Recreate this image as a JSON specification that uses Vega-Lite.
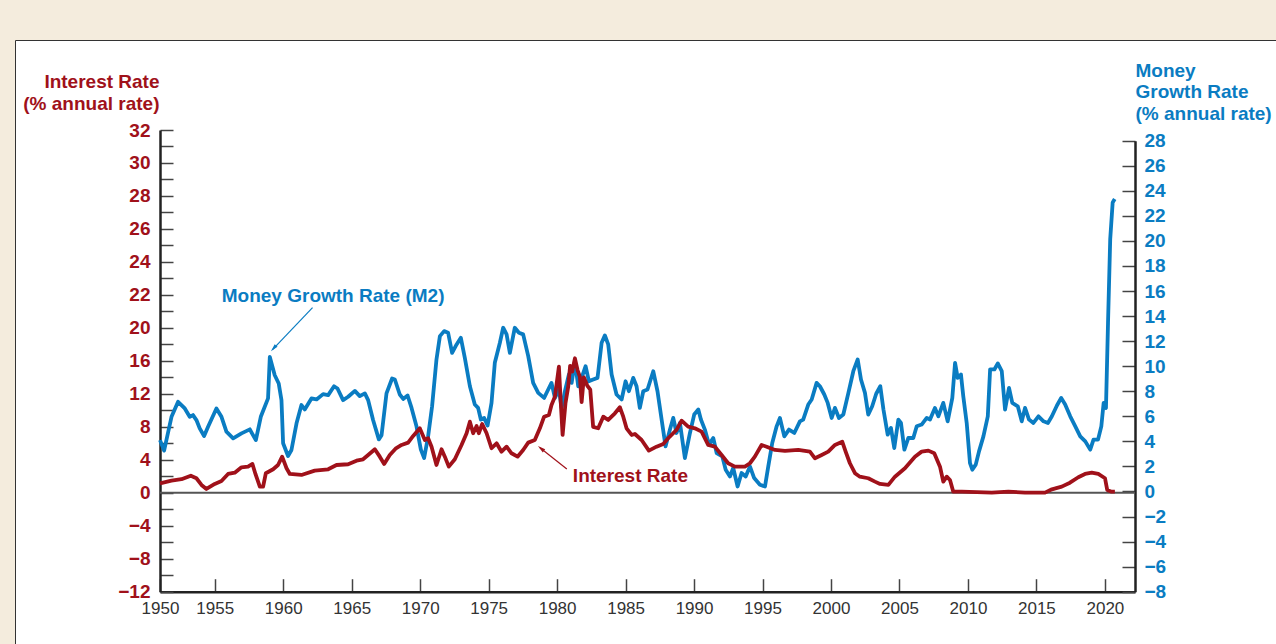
{
  "$schema": "https://vega.github.io/schema/vega-lite/v6.json",
  "width": 1261,
  "height": 604,
  "autosize": {"type": "none"},
  "padding": {"left": 15, "top": 40, "right": 0, "bottom": 0},
  "background": "#f4ecdd",
  "config": {
    "font": "Liberation Sans",
    "view": {"fill": "white", "stroke": "#333333", "strokeWidth": 1},
    "axis": {"grid": false}
  },
  "datasets": {
    "rate": [
      {"year": 1951.0, "value": 1.15}, {"year": 1951.84, "value": 1.47}, {"year": 1952.57, "value": 1.64}, {"year": 1953.25, "value": 2.07},
      {"year": 1953.66, "value": 1.76}, {"year": 1954.03, "value": 0.95}, {"year": 1954.39, "value": 0.46}, {"year": 1955.0, "value": 1.07},
      {"year": 1955.49, "value": 1.43}, {"year": 1955.97, "value": 2.28}, {"year": 1956.46, "value": 2.44}, {"year": 1956.95, "value": 3.09},
      {"year": 1957.43, "value": 3.17}, {"year": 1957.75, "value": 3.49}, {"year": 1957.97, "value": 2.28}, {"year": 1958.29, "value": 0.74},
      {"year": 1958.53, "value": 0.74}, {"year": 1958.73, "value": 2.37}, {"year": 1959.26, "value": 2.85}, {"year": 1959.62, "value": 3.37},
      {"year": 1959.92, "value": 4.38}, {"year": 1960.24, "value": 2.97}, {"year": 1960.48, "value": 2.28}, {"year": 1961.33, "value": 2.16},
      {"year": 1962.3, "value": 2.68}, {"year": 1963.28, "value": 2.85}, {"year": 1963.89, "value": 3.37}, {"year": 1964.74, "value": 3.46},
      {"year": 1965.35, "value": 3.89}, {"year": 1965.83, "value": 4.06}, {"year": 1966.2, "value": 4.58}, {"year": 1966.69, "value": 5.28},
      {"year": 1967.05, "value": 4.38}, {"year": 1967.37, "value": 3.49}, {"year": 1967.78, "value": 4.58}, {"year": 1968.2, "value": 5.35},
      {"year": 1968.64, "value": 5.8}, {"year": 1969.12, "value": 6.08}, {"year": 1969.49, "value": 6.89}, {"year": 1969.97, "value": 7.82},
      {"year": 1970.34, "value": 6.4}, {"year": 1970.58, "value": 6.61}, {"year": 1970.83, "value": 5.59}, {"year": 1971.19, "value": 3.37},
      {"year": 1971.56, "value": 5.28}, {"year": 1971.8, "value": 4.38}, {"year": 1972.09, "value": 3.17}, {"year": 1972.53, "value": 4.06},
      {"year": 1973.02, "value": 5.8}, {"year": 1973.39, "value": 7.22}, {"year": 1973.63, "value": 8.62}, {"year": 1973.87, "value": 7.22},
      {"year": 1974.12, "value": 8.1}, {"year": 1974.28, "value": 7.22}, {"year": 1974.53, "value": 8.34}, {"year": 1974.85, "value": 7.22},
      {"year": 1975.21, "value": 5.4}, {"year": 1975.58, "value": 6.0}, {"year": 1975.94, "value": 4.98}, {"year": 1976.31, "value": 5.59},
      {"year": 1976.67, "value": 4.79}, {"year": 1977.11, "value": 4.38}, {"year": 1977.52, "value": 5.19}, {"year": 1977.89, "value": 6.08},
      {"year": 1978.37, "value": 6.4}, {"year": 1978.74, "value": 7.82}, {"year": 1979.05, "value": 9.23}, {"year": 1979.4, "value": 9.44},
      {"year": 1979.59, "value": 10.65}, {"year": 1979.84, "value": 11.66}, {"year": 1980.13, "value": 15.29}, {"year": 1980.27, "value": 10.85},
      {"year": 1980.4, "value": 7.01}, {"year": 1980.61, "value": 10.85}, {"year": 1980.81, "value": 12.87}, {"year": 1980.95, "value": 15.4},
      {"year": 1981.1, "value": 14.7}, {"year": 1981.3, "value": 16.31}, {"year": 1981.49, "value": 14.89}, {"year": 1981.66, "value": 14.08},
      {"year": 1981.79, "value": 11.0}, {"year": 1981.95, "value": 14.0}, {"year": 1982.2, "value": 13.0}, {"year": 1982.42, "value": 12.5},
      {"year": 1982.63, "value": 8.0}, {"year": 1983.0, "value": 7.82}, {"year": 1983.37, "value": 9.23}, {"year": 1983.73, "value": 8.83},
      {"year": 1984.22, "value": 9.64}, {"year": 1984.58, "value": 10.37}, {"year": 1984.83, "value": 9.23}, {"year": 1985.07, "value": 7.82},
      {"year": 1985.44, "value": 7.01}, {"year": 1985.68, "value": 7.13}, {"year": 1986.17, "value": 6.4}, {"year": 1986.7, "value": 5.11},
      {"year": 1987.26, "value": 5.59}, {"year": 1987.75, "value": 5.92}, {"year": 1988.11, "value": 6.61}, {"year": 1988.72, "value": 7.62},
      {"year": 1989.09, "value": 8.74}, {"year": 1989.57, "value": 8.02}, {"year": 1990.06, "value": 7.82}, {"year": 1990.55, "value": 7.41},
      {"year": 1991.03, "value": 5.8}, {"year": 1991.52, "value": 5.59}, {"year": 1992.01, "value": 4.58}, {"year": 1992.49, "value": 3.58},
      {"year": 1992.98, "value": 3.17}, {"year": 1993.71, "value": 3.17}, {"year": 1994.08, "value": 3.58}, {"year": 1994.44, "value": 4.38},
      {"year": 1994.93, "value": 5.8}, {"year": 1995.3, "value": 5.59}, {"year": 1995.91, "value": 5.19}, {"year": 1996.64, "value": 5.07},
      {"year": 1997.61, "value": 5.19}, {"year": 1998.46, "value": 4.99}, {"year": 1998.83, "value": 4.18}, {"year": 1999.32, "value": 4.58},
      {"year": 1999.8, "value": 4.99}, {"year": 2000.29, "value": 5.8}, {"year": 2000.82, "value": 6.2}, {"year": 2001.07, "value": 4.99},
      {"year": 2001.38, "value": 3.58}, {"year": 2001.75, "value": 2.37}, {"year": 2002.11, "value": 1.95}, {"year": 2002.72, "value": 1.76},
      {"year": 2003.21, "value": 1.35}, {"year": 2003.58, "value": 1.07}, {"year": 2004.19, "value": 0.95}, {"year": 2004.67, "value": 1.95},
      {"year": 2005.4, "value": 2.97}, {"year": 2006.13, "value": 4.38}, {"year": 2006.62, "value": 4.99}, {"year": 2007.11, "value": 5.11},
      {"year": 2007.54, "value": 4.79}, {"year": 2007.96, "value": 3.17}, {"year": 2008.2, "value": 1.35}, {"year": 2008.45, "value": 1.95},
      {"year": 2008.69, "value": 1.55}, {"year": 2008.93, "value": 0.13}, {"year": 2009.55, "value": 0.13}, {"year": 2011.74, "value": 0.02},
      {"year": 2012.95, "value": 0.13}, {"year": 2014.17, "value": 0.02}, {"year": 2015.63, "value": 0.02}, {"year": 2016.13, "value": 0.42},
      {"year": 2016.85, "value": 0.74}, {"year": 2017.45, "value": 1.22}, {"year": 2018.06, "value": 1.88}, {"year": 2018.55, "value": 2.28},
      {"year": 2019.04, "value": 2.44}, {"year": 2019.52, "value": 2.28}, {"year": 2020.01, "value": 1.76}, {"year": 2020.17, "value": 0.34},
      {"year": 2020.49, "value": 0.13}, {"year": 2020.73, "value": 0.13}
    ],
    "m2": [
      {"year": 1951.0, "value": 4.1}, {"year": 1951.3, "value": 3.26}, {"year": 1951.84, "value": 5.96}, {"year": 1952.32, "value": 7.16},
      {"year": 1952.81, "value": 6.63}, {"year": 1953.17, "value": 5.96}, {"year": 1953.41, "value": 6.1}, {"year": 1953.66, "value": 5.7},
      {"year": 1953.9, "value": 5.04}, {"year": 1954.22, "value": 4.43}, {"year": 1954.51, "value": 5.17}, {"year": 1955.12, "value": 6.63},
      {"year": 1955.49, "value": 5.96}, {"year": 1955.85, "value": 4.77}, {"year": 1956.34, "value": 4.24}, {"year": 1956.95, "value": 4.64},
      {"year": 1957.56, "value": 4.96}, {"year": 1957.72, "value": 4.64}, {"year": 1958.0, "value": 4.1}, {"year": 1958.36, "value": 5.96},
      {"year": 1958.89, "value": 7.43}, {"year": 1959.02, "value": 10.74}, {"year": 1959.38, "value": 9.28}, {"year": 1959.67, "value": 8.62},
      {"year": 1959.87, "value": 7.29}, {"year": 1959.99, "value": 3.85}, {"year": 1960.35, "value": 2.83}, {"year": 1960.6, "value": 3.31},
      {"year": 1960.97, "value": 5.44}, {"year": 1961.33, "value": 6.9}, {"year": 1961.57, "value": 6.55}, {"year": 1962.06, "value": 7.43},
      {"year": 1962.43, "value": 7.35}, {"year": 1962.91, "value": 7.77}, {"year": 1963.28, "value": 7.69}, {"year": 1963.71, "value": 8.4},
      {"year": 1963.96, "value": 8.22}, {"year": 1964.37, "value": 7.29}, {"year": 1964.74, "value": 7.56}, {"year": 1965.23, "value": 8.03},
      {"year": 1965.59, "value": 7.61}, {"year": 1965.96, "value": 7.83}, {"year": 1966.2, "value": 7.29}, {"year": 1966.56, "value": 5.7},
      {"year": 1966.98, "value": 4.16}, {"year": 1967.18, "value": 4.5}, {"year": 1967.54, "value": 7.83}, {"year": 1967.95, "value": 9.02},
      {"year": 1968.15, "value": 8.94}, {"year": 1968.51, "value": 7.74}, {"year": 1968.76, "value": 7.39}, {"year": 1969.08, "value": 7.66},
      {"year": 1969.37, "value": 6.67}, {"year": 1969.73, "value": 5.2}, {"year": 1970.05, "value": 3.34}, {"year": 1970.29, "value": 2.67},
      {"year": 1970.58, "value": 4.4}, {"year": 1970.87, "value": 6.8}, {"year": 1971.19, "value": 10.54}, {"year": 1971.44, "value": 12.4},
      {"year": 1971.75, "value": 12.8}, {"year": 1972.04, "value": 12.67}, {"year": 1972.33, "value": 11.07}, {"year": 1972.66, "value": 11.74},
      {"year": 1972.97, "value": 12.27}, {"year": 1973.26, "value": 10.67}, {"year": 1973.63, "value": 8.4}, {"year": 1973.99, "value": 6.94},
      {"year": 1974.23, "value": 6.67}, {"year": 1974.43, "value": 5.74}, {"year": 1974.67, "value": 5.87}, {"year": 1974.92, "value": 5.26},
      {"year": 1975.21, "value": 7.07}, {"year": 1975.45, "value": 10.27}, {"year": 1975.82, "value": 11.87}, {"year": 1976.06, "value": 13.07},
      {"year": 1976.31, "value": 12.54}, {"year": 1976.55, "value": 11.07}, {"year": 1976.91, "value": 13.07}, {"year": 1977.21, "value": 12.67},
      {"year": 1977.52, "value": 12.54}, {"year": 1977.89, "value": 10.8}, {"year": 1978.25, "value": 8.67}, {"year": 1978.62, "value": 7.87},
      {"year": 1979.05, "value": 7.47}, {"year": 1979.35, "value": 8.14}, {"year": 1979.59, "value": 8.67}, {"year": 1979.84, "value": 7.47},
      {"year": 1980.13, "value": 8.14}, {"year": 1980.33, "value": 6.67}, {"year": 1980.57, "value": 8.0}, {"year": 1980.86, "value": 9.34},
      {"year": 1981.06, "value": 8.67}, {"year": 1981.3, "value": 10.4}, {"year": 1981.54, "value": 8.4}, {"year": 1981.79, "value": 9.07},
      {"year": 1982.08, "value": 10.0}, {"year": 1982.32, "value": 8.8}, {"year": 1982.63, "value": 8.94}, {"year": 1982.95, "value": 9.07},
      {"year": 1983.25, "value": 11.87}, {"year": 1983.49, "value": 12.46}, {"year": 1983.73, "value": 11.74}, {"year": 1983.98, "value": 9.34},
      {"year": 1984.34, "value": 7.74}, {"year": 1984.71, "value": 7.34}, {"year": 1985.0, "value": 8.8}, {"year": 1985.24, "value": 8.0},
      {"year": 1985.56, "value": 9.07}, {"year": 1985.8, "value": 8.4}, {"year": 1986.04, "value": 6.67}, {"year": 1986.29, "value": 8.0},
      {"year": 1986.6, "value": 8.14}, {"year": 1987.02, "value": 9.6}, {"year": 1987.33, "value": 8.0}, {"year": 1987.63, "value": 5.74},
      {"year": 1987.92, "value": 3.6}, {"year": 1988.24, "value": 4.94}, {"year": 1988.48, "value": 5.87}, {"year": 1988.72, "value": 4.67},
      {"year": 1988.97, "value": 5.47}, {"year": 1989.33, "value": 2.67}, {"year": 1989.7, "value": 4.67}, {"year": 1990.01, "value": 6.14},
      {"year": 1990.31, "value": 6.54}, {"year": 1990.5, "value": 5.74}, {"year": 1990.79, "value": 4.94}, {"year": 1991.09, "value": 3.74},
      {"year": 1991.4, "value": 4.27}, {"year": 1991.65, "value": 3.07}, {"year": 1992.06, "value": 2.8}, {"year": 1992.31, "value": 1.74},
      {"year": 1992.62, "value": 1.2}, {"year": 1992.86, "value": 1.87}, {"year": 1993.18, "value": 0.4}, {"year": 1993.47, "value": 1.47},
      {"year": 1993.77, "value": 1.2}, {"year": 1994.08, "value": 2.0}, {"year": 1994.39, "value": 1.07}, {"year": 1994.81, "value": 0.54},
      {"year": 1995.18, "value": 0.4}, {"year": 1995.42, "value": 2.0}, {"year": 1995.71, "value": 3.87}, {"year": 1996.03, "value": 5.2},
      {"year": 1996.27, "value": 5.87}, {"year": 1996.59, "value": 4.4}, {"year": 1996.93, "value": 4.94}, {"year": 1997.32, "value": 4.67},
      {"year": 1997.73, "value": 5.6}, {"year": 1997.97, "value": 5.74}, {"year": 1998.34, "value": 6.94}, {"year": 1998.59, "value": 7.34},
      {"year": 1998.95, "value": 8.67}, {"year": 1999.19, "value": 8.4}, {"year": 1999.51, "value": 7.74}, {"year": 1999.76, "value": 7.07},
      {"year": 2000.05, "value": 5.87}, {"year": 2000.29, "value": 6.67}, {"year": 2000.58, "value": 5.87}, {"year": 2000.9, "value": 6.14},
      {"year": 2001.27, "value": 7.87}, {"year": 2001.63, "value": 9.6}, {"year": 2001.95, "value": 10.54}, {"year": 2002.19, "value": 8.94},
      {"year": 2002.48, "value": 7.87}, {"year": 2002.72, "value": 6.14}, {"year": 2003.01, "value": 6.8}, {"year": 2003.3, "value": 7.8},
      {"year": 2003.6, "value": 8.4}, {"year": 2003.83, "value": 6.54}, {"year": 2004.14, "value": 4.54}, {"year": 2004.38, "value": 5.07},
      {"year": 2004.62, "value": 3.47}, {"year": 2004.92, "value": 5.74}, {"year": 2005.11, "value": 5.47}, {"year": 2005.36, "value": 3.34},
      {"year": 2005.65, "value": 4.27}, {"year": 2006.01, "value": 4.27}, {"year": 2006.26, "value": 5.2}, {"year": 2006.62, "value": 5.34},
      {"year": 2006.99, "value": 5.87}, {"year": 2007.23, "value": 5.74}, {"year": 2007.59, "value": 6.67}, {"year": 2007.84, "value": 6.0},
      {"year": 2008.2, "value": 7.07}, {"year": 2008.52, "value": 5.6}, {"year": 2008.86, "value": 7.47}, {"year": 2009.06, "value": 10.27},
      {"year": 2009.25, "value": 9.07}, {"year": 2009.49, "value": 9.34}, {"year": 2009.66, "value": 7.6}, {"year": 2009.91, "value": 5.47},
      {"year": 2010.15, "value": 2.27}, {"year": 2010.32, "value": 1.74}, {"year": 2010.57, "value": 2.14}, {"year": 2010.81, "value": 3.2},
      {"year": 2011.13, "value": 4.4}, {"year": 2011.45, "value": 6.0}, {"year": 2011.62, "value": 9.74}, {"year": 2011.93, "value": 9.74},
      {"year": 2012.18, "value": 10.22}, {"year": 2012.47, "value": 9.6}, {"year": 2012.71, "value": 6.54}, {"year": 2013.0, "value": 8.27},
      {"year": 2013.24, "value": 7.07}, {"year": 2013.64, "value": 6.8}, {"year": 2013.93, "value": 5.6}, {"year": 2014.17, "value": 6.67},
      {"year": 2014.46, "value": 5.74}, {"year": 2014.78, "value": 5.47}, {"year": 2015.15, "value": 6.0}, {"year": 2015.52, "value": 5.6},
      {"year": 2015.84, "value": 5.47}, {"year": 2016.13, "value": 6.0}, {"year": 2016.5, "value": 6.86}, {"year": 2016.81, "value": 7.47},
      {"year": 2017.1, "value": 6.94}, {"year": 2017.47, "value": 6.0}, {"year": 2017.84, "value": 5.2}, {"year": 2018.2, "value": 4.4},
      {"year": 2018.57, "value": 4.0}, {"year": 2018.93, "value": 3.34}, {"year": 2019.17, "value": 4.14}, {"year": 2019.5, "value": 4.14},
      {"year": 2019.74, "value": 5.2}, {"year": 2019.91, "value": 7.07}, {"year": 2020.08, "value": 6.67}, {"year": 2020.23, "value": 13.47},
      {"year": 2020.39, "value": 20.14}, {"year": 2020.57, "value": 23.07}, {"year": 2020.72, "value": 23.34}
    ]
  },
  "layer": [
    {
      "layer": [
        {
          "data": {"name": "m2"},
          "mark": {"type": "line", "color": "#0a7cc2", "strokeWidth": 3.8, "strokeJoin": "round"},
          "encoding": {
            "x": {
              "field": "year", "type": "quantitative",
              "scale": {"domain": [1951, 2022.2], "range": [145, 1120], "nice": false, "zero": false},
              "axis": {
                "orient": "bottom", "offset": -52.3, "title": null,
                "values": [1951, 1955, 1960, 1965, 1970, 1975, 1980, 1985, 1990, 1995, 2000, 2005, 2010, 2015, 2020],
                "tickCount": 40,
                "format": "d",
                "labelExpr": "datum.value < 1952 ? '1950' : datum.label",
                "labelFlush": false, "labelOverlap": false,
                "labelFont": "Liberation Sans", "labelFontSize": 17, "labelColor": "#333333",
                "labelPadding": 22,
                "tickSize": -13, "tickColor": "#444444", "tickWidth": 1.5,
                "domainColor": "#222222", "domainWidth": 2.5
              }
            },
            "y": {
              "field": "value", "type": "quantitative",
              "scale": {"domain": [-8, 28], "range": [551.7, 100.7], "nice": false, "zero": false},
              "axis": {
                "orient": "right", "offset": -141,
                "values": [-8, -6, -4, -2, 0, 2, 4, 6, 8, 10, 12, 14, 16, 18, 20, 22, 24, 26, 28],
                "tickCount": 40,
                "labelExpr": "datum.value < 0 ? '\u2212' + abs(datum.value) : datum.label",
                "labelFlush": false, "labelOverlap": false,
                "labelFont": "Liberation Sans", "labelFontSize": 19, "labelFontWeight": "bold", "labelColor": "#0a7cc2",
                "labelPadding": 22,
                "tickSize": -13, "tickColor": "#444444", "tickWidth": 1.5,
                "domainColor": "#222222", "domainWidth": 2.5,
                "title": ["Money", "Growth Rate", "(% annual rate)"],
                "titleAngle": 0, "titleAlign": "left", "titleBaseline": "top",
                "titleX": 0, "titleY": 21, "titleLineHeight": 21.7,
                "titleFont": "Liberation Sans", "titleFontSize": 19, "titleFontWeight": "bold", "titleColor": "#0a7cc2"
              }
            }
          }
        },
        {
          "data": {"values": [{}]},
          "mark": {"type": "text", "text": "Money Growth Rate (M2)", "align": "left", "baseline": "middle", "font": "Liberation Sans", "fontSize": 19, "fontWeight": "bold", "color": "#0a7cc2"},
          "encoding": {
            "x": {"datum": 1955.51, "type": "quantitative", "scale": {"domain": [1951, 2022.2], "range": [145, 1120], "nice": false, "zero": false}},
            "y": {"datum": 15.58, "type": "quantitative", "scale": {"domain": [-8, 28], "range": [551.7, 100.7], "nice": false, "zero": false}}
          }
        },
        {
          "data": {"values": [{}]},
          "mark": {"type": "rule", "color": "#0a7cc2", "strokeWidth": 1.2},
          "encoding": {
            "x": {"datum": 1962.14, "type": "quantitative", "scale": {"domain": [1951, 2022.2], "range": [145, 1120], "nice": false, "zero": false}},
            "x2": {"datum": 1959.2},
            "y": {"datum": 14.67, "type": "quantitative", "scale": {"domain": [-8, 28], "range": [551.7, 100.7], "nice": false, "zero": false}},
            "y2": {"datum": 11.3}
          }
        },
        {
          "data": {"values": [{}]},
          "mark": {"type": "point", "shape": "M0,-1L0.5,1L-0.5,1Z", "filled": true, "size": 60, "angle": 222, "color": "#0a7cc2", "opacity": 1},
          "encoding": {
            "x": {"datum": 1959.29, "type": "quantitative", "scale": {"domain": [1951, 2022.2], "range": [145, 1120], "nice": false, "zero": false}},
            "y": {"datum": 11.42, "type": "quantitative", "scale": {"domain": [-8, 28], "range": [551.7, 100.7], "nice": false, "zero": false}}
          }
        }
      ]
    },
    {
      "layer": [
        {
          "data": {"values": [{}]},
          "mark": {"type": "rule", "color": "#555555", "strokeWidth": 1.8},
          "encoding": {
            "x": {"datum": 1951, "type": "quantitative", "scale": {"domain": [1951, 2022.2], "range": [145, 1120], "nice": false, "zero": false}},
            "x2": {"datum": 2022.2},
            "y": {"datum": 0, "type": "quantitative", "scale": {"domain": [-12, 44], "range": [551.7, 90], "nice": false, "zero": false}}
          }
        },
        {
          "data": {"name": "rate"},
          "mark": {"type": "line", "color": "#a0111a", "strokeWidth": 3.8, "strokeJoin": "round"},
          "encoding": {
            "x": {"field": "year", "type": "quantitative", "scale": {"domain": [1951, 2022.2], "range": [145, 1120], "nice": false, "zero": false}},
            "y": {
              "field": "value", "type": "quantitative",
              "scale": {"domain": [-12, 44], "range": [551.7, 90], "nice": false, "zero": false},
              "axis": {
                "orient": "left", "offset": -145,
                "values": [-12, -10, -8, -6, -4, -2, 0, 2, 4, 6, 8, 10, 12, 14, 16, 18, 20, 22, 24, 26, 28, 30, 32, 34, 36, 38, 40, 42, 44],
                "tickCount": 40,
                "labelExpr": "(datum.value + 12) % 4 != 0 ? '' : (datum.value < 0 ? '\u2212' + abs(datum.value) : '' + (datum.value <= 20 ? datum.value : 20 + (datum.value - 20) / 2))",
                "labelFlush": false, "labelOverlap": false,
                "labelFont": "Liberation Sans", "labelFontSize": 19, "labelFontWeight": "bold", "labelColor": "#a0111a",
                "labelPadding": 23,
                "tickSize": -13, "tickColor": "#444444", "tickWidth": 1.5,
                "domainColor": "#222222", "domainWidth": 2.5,
                "title": ["Interest Rate", "(% annual rate)"],
                "titleAngle": 0, "titleAlign": "right", "titleBaseline": "top",
                "titleX": -1, "titleY": 32, "titleLineHeight": 22,
                "titleFont": "Liberation Sans", "titleFontSize": 19, "titleFontWeight": "bold", "titleColor": "#a0111a"
              }
            }
          }
        },
        {
          "data": {"values": [{}]},
          "mark": {"type": "text", "text": "Interest Rate", "align": "left", "baseline": "middle", "font": "Liberation Sans", "fontSize": 19, "fontWeight": "bold", "color": "#a0111a"},
          "encoding": {
            "x": {"datum": 1981.15, "type": "quantitative", "scale": {"domain": [1951, 2022.2], "range": [145, 1120], "nice": false, "zero": false}},
            "y": {"datum": 2.04, "type": "quantitative", "scale": {"domain": [-12, 44], "range": [551.7, 90], "nice": false, "zero": false}}
          }
        },
        {
          "data": {"values": [{}]},
          "mark": {"type": "rule", "color": "#a0111a", "strokeWidth": 1.2},
          "encoding": {
            "x": {"datum": 1980.71, "type": "quantitative", "scale": {"domain": [1951, 2022.2], "range": [145, 1120], "nice": false, "zero": false}},
            "x2": {"datum": 1978.75},
            "y": {"datum": 2.89, "type": "quantitative", "scale": {"domain": [-12, 44], "range": [551.7, 90], "nice": false, "zero": false}},
            "y2": {"datum": 5.45}
          }
        },
        {
          "data": {"values": [{}]},
          "mark": {"type": "point", "shape": "M0,-1L0.5,1L-0.5,1Z", "filled": true, "size": 60, "angle": 308, "color": "#a0111a", "opacity": 1},
          "encoding": {
            "x": {"datum": 1978.82, "type": "quantitative", "scale": {"domain": [1951, 2022.2], "range": [145, 1120], "nice": false, "zero": false}},
            "y": {"datum": 5.37, "type": "quantitative", "scale": {"domain": [-12, 44], "range": [551.7, 90], "nice": false, "zero": false}}
          }
        }
      ]
    }
  ],
  "resolve": {"scale": {"y": "independent"}}
}
